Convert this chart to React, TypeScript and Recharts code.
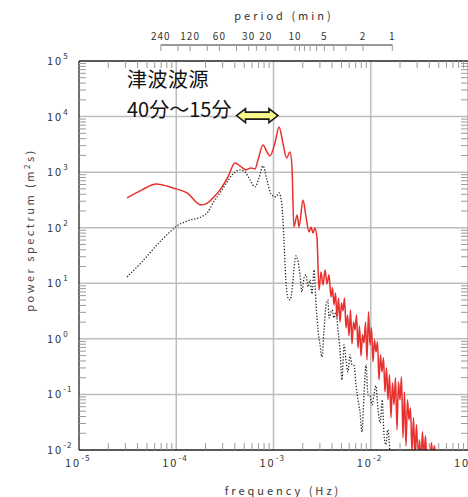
import { LineChart, Line, XAxis, YAxis, ReferenceLine } from 'recharts';

// spectrum values: frequency (Hz) and power (m^2 s)
const redFreq = [
    3.12e-5, 4.44e-5, 6.19e-5, 9.26e-5, 1.29e-4, 1.80e-4, 2.02e-4, 2.39e-4, 2.82e-4, 3.40e-4,
    4.02e-4, 4.52e-4, 5.21e-4, 5.87e-4, 6.45e-4, 6.93e-4, 7.80e-4, 8.57e-4, 9.20e-4, 1.04e-3,
    1.14e-3, 1.25e-3, 1.36e-3, 1.48e-3, 1.55e-3, 1.62e-3, 1.75e-3, 1.83e-3, 2.01e-3, 2.16e-3,
    2.32e-3, 2.43e-3, 2.55e-3, 2.67e-3, 2.80e-3, 2.94e-3, 3.08e-3, 3.23e-3, 3.39e-3, 3.55e-3,
    3.72e-3,
    3.902e-3, 4.043e-3, 4.189e-3, 4.341e-3, 4.498e-3, 4.660e-3, 4.829e-3, 5.003e-3, 5.184e-3, 5.371e-3,
    5.566e-3, 5.767e-3, 5.975e-3, 6.191e-3, 6.415e-3, 6.647e-3, 6.887e-3, 7.136e-3, 7.394e-3, 7.661e-3,
    7.938e-3, 8.225e-3, 8.522e-3, 8.830e-3, 9.149e-3, 9.480e-3, 9.822e-3, 1.0177e-2, 1.0545e-2, 1.0926e-2,
    1.1321e-2, 1.1730e-2, 1.2154e-2, 1.2593e-2, 1.3048e-2, 1.3520e-2, 1.4008e-2, 1.4514e-2, 1.5039e-2, 1.5582e-2,
    1.6145e-2, 1.6729e-2, 1.7333e-2, 1.7960e-2, 1.8609e-2, 1.9281e-2, 1.9978e-2, 2.0700e-2, 2.1448e-2, 2.2223e-2,
    2.3026e-2, 2.3858e-2, 2.4720e-2, 2.5614e-2, 2.6539e-2, 2.7498e-2, 2.8492e-2, 2.9522e-2, 3.0588e-2, 3.1694e-2,
    3.2839e-2, 3.4026e-2, 3.5256e-2, 3.6530e-2, 3.7850e-2, 3.9217e-2, 4.0635e-2, 4.2103e-2, 4.3625e-2, 4.5201e-2,
    4.6835e-2,
];
const redPower = [
    344, 479, 614, 520, 423, 257, 268, 344, 479, 820,
    1462, 1294, 1097, 1191, 1143, 1655, 3080, 2305, 1954, 3490,
    6500, 3350, 1799, 2305, 1191, 103, 170, 103, 316, 156,
    84, 103, 80.6, 99, 65.6, 7.6, 16.0, 9.35, 17.4, 9.75,
    14.2,
    5.69, 8.27, 4.09, 6.72, 2.39, 5.46, 2.02, 4.44, 3.19, 5.46,
    1.58, 2.70, 1.13, 3.32, 0.813, 2.02, 1.45, 2.70, 0.689, 1.71,
    0.494, 1.18, 0.847, 2.02, 0.419, 3.06, 0.78, 1.58, 0.386, 0.959,
    0.584, 0.883, 0.183, 0.515, 0.255, 0.455, 0.111, 0.301, 0.08, 0.225,
    0.0379, 0.162, 0.065, 0.199, 0.0231, 0.168, 0.08, 0.207, 0.0166, 0.111,
    0.0119, 0.08, 0.0349, 0.0574, 0.00928, 0.0379, 0.00787, 0.0284, 0.00724, 0.0153,
    0.00614, 0.0212, 0.00724, 0.018, 0.00614, 0.0082, 0.00614, 0.0135, 0.00724, 0.0119,
    0.00589,
];

const blackFreq = [
    3.12e-5, 4.44e-5, 6.34e-5, 8.62e-5, 1.02e-4, 1.29e-4, 1.88e-4, 2.12e-4, 2.39e-4, 2.82e-4,
    3.33e-4, 3.83e-4, 4.52e-4, 5.09e-4, 5.73e-4, 6.45e-4, 7.10e-4, 7.80e-4, 8.57e-4, 9.43e-4,
    1.06e-3, 1.14e-3, 1.22e-3, 1.28e-3, 1.34e-3, 1.41e-3, 1.48e-3, 1.55e-3, 1.62e-3, 1.70e-3,
    1.79e-3, 1.87e-3, 1.96e-3, 2.06e-3, 2.16e-3, 2.26e-3, 2.37e-3, 2.49e-3, 2.61e-3, 2.74e-3,
    2.87e-3, 3.01e-3, 3.15e-3, 3.31e-3, 3.47e-3, 3.63e-3, 3.72e-3, 4.00e-3, 4.19e-3, 4.39e-3,
    4.60e-3, 4.83e-3, 5.06e-3, 5.31e-3, 5.56e-3, 5.83e-3, 6.12e-3, 6.42e-3, 6.73e-3, 7.05e-3,
    7.39e-3, 7.75e-3, 8.13e-3, 8.52e-3, 8.94e-3, 9.37e-3, 9.82e-3, 1.03e-2, 1.08e-2, 1.13e-2,
    1.19e-2, 1.25e-2, 1.31e-2, 1.37e-2, 1.43e-2, 1.50e-2, 1.58e-2,
];
const blackPower = [
    13.0, 24.3, 49.1, 84, 108, 132, 163, 192, 279, 423,
    667, 929, 1096, 1009, 724, 542, 787, 1294, 724, 405,
    358, 423, 257, 60.4, 11.5, 5.46, 5.03, 7.6, 17.4, 31.1,
    24.3, 14.8, 7.0, 12.5, 14.2, 8.6, 11.5, 6.45, 17.4, 4.09,
    1.45, 0.78, 0.474, 1.45, 4.09, 5.03, 2.39, 3.32, 2.39, 3.06,
    1.45, 0.634, 0.183, 0.78, 0.419, 0.255, 0.515, 0.34, 0.33, 0.149,
    0.08, 0.0486, 0.0212, 0.0984, 0.347, 0.0984, 0.0944, 0.065, 0.0984, 0.143,
    0.0528, 0.0308, 0.08, 0.0187, 0.0124, 0.0231, 0.0078,
];

const xDecades = [1e-5, 1e-4, 1e-3, 1e-2, 1e-1];
const yDecades = [1e-2, 1e-1, 1, 10, 100, 1e3, 1e4, 1e5];
const minorSteps = [2, 3, 4, 5, 6, 7, 8, 9];
const periodTicks = [240, 160, 120, 80, 60, 40, 30, 25, 20, 15, 10, 9, 8, 7, 6, 5, 4, 3, 2, 1];
const periodLabels = [240, 120, 60, 30, 20, 10, 5, 2, 1];
const sourceBand = [40, 15]; // minutes
const arrowLevel = 1.04e4;
const periodAxisLevel = 1.94e5;

const redData = redFreq.map((f, i) => ({ f, p: redPower[i] }));
const blackData = blackFreq.map((f, i) => ({ f, p: blackPower[i] }));

const toHz = (min: number) => 1 / (60 * min);
const periodFreqs = periodTicks.map(toHz);
const minors = (decades: number[]) => decades.slice(0, -1).flatMap((d) => minorSteps.map((m) => m * d));
const xTicks = [...xDecades, ...minors(xDecades)];
const yTicks = [...yDecades, ...minors(yDecades)];
const topTicks = [...xTicks, ...periodFreqs];

const isDecade = (v: number) => {
    const lg = Math.log10(v);
    return Math.abs(lg - Math.round(lg)) < 1e-6;
};

const font = '"Noto Sans CJK JP", "Noto Sans", sans-serif';
const minorColor = '#9a9a9a';
const gridColor = '#bdbdbd';
const frameColor = '#222';

function PowLabel({ x, y, v, anchor }: { x: number; y: number; v: number; anchor: string }) {
    return (
        <text x={x} y={y} textAnchor={anchor as any} fontFamily={font} fontSize={11} fill="#333" letterSpacing={2}>
            10<tspan dy={-6} fontSize={8} letterSpacing={1}>{Math.round(Math.log10(v))}</tspan>
        </text>
    );
}

function BottomTick(props: any) {
    const { x, y, payload } = props;
    if (isDecade(payload.value)) return <PowLabel x={x - 14} y={y + 17} v={payload.value} anchor="start" />;
    return <line x1={x} x2={x} y1={y} y2={y - 7} stroke={minorColor} />;
}

function LeftTick(props: any) {
    const { x, y, payload } = props;
    if (isDecade(payload.value)) return <PowLabel x={x - 32} y={y + 4} v={payload.value} anchor="start" />;
    return <line x1={x} x2={x + 7} y1={y} y2={y} stroke={minorColor} />;
}

function RightTick(props: any) {
    const { x, y, payload } = props;
    if (isDecade(payload.value)) return <g />;
    return <line x1={x - 7} x2={x} y1={y} y2={y} stroke={minorColor} />;
}

function TopTick(props: any) {
    const { x, y, payload } = props;
    const idx = periodFreqs.indexOf(payload.value);
    if (idx >= 0) {
        const T = periodTicks[idx];
        return (
            <g>
                <line x1={x} x2={x} y1={y - 16} y2={y - 10} stroke={minorColor} />
                {periodLabels.includes(T) && (
                    <text x={x} y={y - 21} textAnchor="middle" fontFamily={font} fontSize={10} fill="#333" letterSpacing={1}>
                        {T}
                    </text>
                )}
            </g>
        );
    }
    if (isDecade(payload.value)) return <g />;
    return <line x1={x} x2={x} y1={y} y2={y + 7} stroke={minorColor} />;
}

function BandArrow(props: any) {
    const { x1, x2, y1 } = props;
    const h = 9, H = 7, s = 3.5;
    const pts = [
        [x1, y1], [x1 + h, y1 - H], [x1 + h, y1 - s], [x2 - h, y1 - s], [x2 - h, y1 - H],
        [x2, y1], [x2 - h, y1 + H], [x2 - h, y1 + s], [x1 + h, y1 + s], [x1 + h, y1 + H],
    ];
    return <polygon points={pts.map((p) => p.join(',')).join(' ')} fill="#f7f78c" stroke="#1a1a1a" strokeWidth={1.6} />;
}

export default function App() {
    return (
        <div style={{ position: 'absolute', left: 0, top: 0, width: 468, height: 497, overflow: 'hidden', background: '#fff' }}>
            <LineChart width={469} height={497} margin={{ top: 0, right: 0, bottom: 0, left: 0 }}>
                <XAxis
                    xAxisId="b" dataKey="f" type="number" scale="log" domain={[1e-5, 1e-1]} allowDataOverflow
                    ticks={xTicks} interval={0} height={47} tickSize={0} tickMargin={0} tickLine={false}
                    axisLine={{ stroke: frameColor, strokeWidth: 1.3 }} tick={(p: any) => <BottomTick {...p} />}
                />
                <XAxis
                    xAxisId="t" orientation="top" dataKey="f" type="number" scale="log" domain={[1e-5, 1e-1]} allowDataOverflow
                    ticks={topTicks} interval={0} height={61} tickSize={0} tickMargin={0} tickLine={false}
                    axisLine={{ stroke: frameColor, strokeWidth: 1.3 }} tick={(p: any) => <TopTick {...p} />}
                />
                <YAxis
                    yAxisId="l" type="number" scale="log" domain={[1e-2, 1e5]} allowDataOverflow
                    ticks={yTicks} interval={0} width={79} tickSize={0} tickMargin={0} tickLine={false}
                    axisLine={{ stroke: frameColor, strokeWidth: 1.3 }} tick={(p: any) => <LeftTick {...p} />}
                />
                <YAxis
                    yAxisId="r" orientation="right" type="number" scale="log" domain={[1e-2, 1e5]} allowDataOverflow
                    ticks={yTicks} interval={0} width={1} tickSize={0} tickMargin={0} tickLine={false}
                    axisLine={{ stroke: '#888' }} tick={(p: any) => <RightTick {...p} />}
                />

                {xDecades.slice(1, -1).map((v) => (
                    <ReferenceLine key={'gx' + v} xAxisId="b" yAxisId="l" x={v} stroke={gridColor} strokeWidth={1.5} />
                ))}
                {yDecades.slice(1, -1).map((v) => (
                    <ReferenceLine key={'gy' + v} xAxisId="b" yAxisId="l" y={v} stroke={gridColor} strokeWidth={1.5} />
                ))}

                <Line
                    data={blackData} dataKey="p" xAxisId="b" yAxisId="l" type="monotone"
                    stroke="#2a2a2a" strokeWidth={1.3} strokeDasharray="1.3 1.7" dot={false} isAnimationActive={false}
                />
                <Line
                    data={redData} dataKey="p" xAxisId="b" yAxisId="l" type="monotone"
                    stroke="#e8302e" strokeWidth={1.5} dot={false} isAnimationActive={false}
                />

                <ReferenceLine
                    xAxisId="b" yAxisId="l" ifOverflow="visible"
                    segment={[{ x: toHz(periodTicks[0]), y: periodAxisLevel }, { x: toHz(periodTicks[periodTicks.length - 1]), y: periodAxisLevel }]}
                    stroke="#777" strokeWidth={1.5}
                />
                <ReferenceLine
                    xAxisId="b" yAxisId="l" ifOverflow="visible"
                    segment={[{ x: toHz(sourceBand[0]), y: arrowLevel }, { x: toHz(sourceBand[1]), y: arrowLevel }]}
                    shape={(p: any) => <BandArrow {...p} />}
                />
            </LineChart>

            <svg width={468} height={497} style={{ position: 'absolute', left: 0, top: 0, pointerEvents: 'none' }}>
                <text x={284} y={20} textAnchor="middle" fontFamily={font} fontSize={11} fill="#333" letterSpacing={3}>
                    period (min)
                </text>
                <text x={283} y={495} textAnchor="middle" fontFamily={font} fontSize={11} fill="#333" letterSpacing={3}>
                    frequency (Hz)
                </text>
                <text
                    x={0} y={0} transform="translate(34 230) rotate(-90)" textAnchor="middle"
                    fontFamily={font} fontSize={11} fill="#444" letterSpacing={2.5}
                >
                    power spectrum (m<tspan dy={-4} fontSize={8}>2</tspan><tspan dy={4}>s)</tspan>
                </text>
                <text x={127} y={87} fontFamily={font} fontSize={20} fill="#111" letterSpacing={0.5}>津波波源</text>
                <text x={127} y={117} fontFamily={font} fontSize={20} fill="#111">40分～15分</text>
            </svg>
        </div>
    );
}
